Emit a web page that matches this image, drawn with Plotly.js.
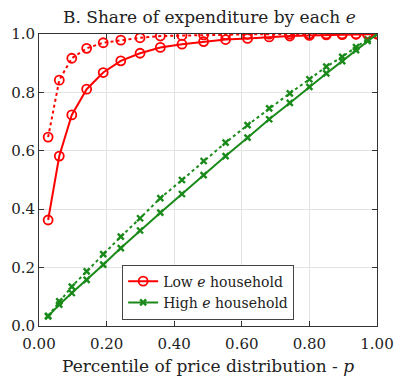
<!DOCTYPE html>
<html>
<head>
<meta charset="utf-8">
<script src="https://cdn.plot.ly/plotly-3.0.1.min.js"></script>
<style>
  html, body { margin: 0; padding: 0; background: #fff; }
  #chart { width: 395px; height: 376px; }
</style>
</head>
<body>
<div id="chart"></div>
<script>
// Percentile of the price distribution (p) at which each share is evaluated
const pGrid = [0.027, 0.06, 0.097, 0.141, 0.19, 0.242, 0.299, 0.359, 0.423, 0.487,
               0.552, 0.617, 0.681, 0.742, 0.80, 0.85, 0.897, 0.938, 0.972, 1.0];

// Cumulative share of expenditure, low-e household (solid and dotted variants)
const lowSolid  = [0.363, 0.582, 0.723, 0.811, 0.868, 0.908, 0.934, 0.954, 0.965, 0.974,
                   0.981, 0.985, 0.990, 0.993, 0.995, 0.997, 0.998, 0.999, 0.9995, 1.0];
const lowDotted = [0.647, 0.842, 0.917, 0.951, 0.970, 0.979, 0.987, 0.993, 0.995, 0.997,
                   0.998, 0.999, 0.9995, 1.0, 1.0, 1.0, 1.0, 1.0, 1.0, 1.0];

// Cumulative share of expenditure, high-e household (solid and dotted variants)
const highSolid  = [0.033, 0.073, 0.113, 0.158, 0.210, 0.267, 0.327, 0.388, 0.452, 0.517,
                    0.582, 0.645, 0.708, 0.764, 0.819, 0.865, 0.907, 0.945, 0.976, 1.0];
const highDotted = [0.035, 0.084, 0.135, 0.187, 0.246, 0.306, 0.369, 0.438, 0.500, 0.565,
                    0.628, 0.688, 0.745, 0.797, 0.845, 0.888, 0.922, 0.955, 0.982, 1.0];

const seriesNames = ['Low <i>e</i> household', 'High <i>e</i> household'];
const xTicks = [0, 0.2, 0.4, 0.6, 0.8, 1.0];
const yTicks = [0, 0.2, 0.4, 0.6, 0.8, 1.0];

const RED = '#ff0000';
const GREEN = '#1a8a1a';
const FONT = 'DejaVu Serif';

const circle = {symbol: 'circle-open', size: 9, color: RED, line: {width: 1.8, color: RED}};
const cross  = {symbol: 'x-thin-open', size: 6, color: GREEN, line: {width: 2.4, color: GREEN}};

const traces = [
  {x: pGrid, y: lowDotted, mode: 'lines+markers', showlegend: false,
   line: {color: RED, width: 2, dash: 'dot'}, marker: circle},
  {x: pGrid, y: highDotted, mode: 'lines+markers', showlegend: false,
   line: {color: GREEN, width: 2, dash: 'dot'}, marker: cross},
  {x: pGrid, y: lowSolid, mode: 'lines+markers', name: seriesNames[0],
   line: {color: RED, width: 2}, marker: circle},
  {x: pGrid, y: highSolid, mode: 'lines+markers', name: seriesNames[1],
   line: {color: GREEN, width: 2}, marker: cross}
];

const axisCommon = {
  showline: true, linecolor: '#333', linewidth: 1, mirror: 'ticks',
  ticks: 'inside', ticklen: 5, tickcolor: '#333',
  showgrid: true, gridcolor: '#e3e3e3', gridwidth: 1,
  zeroline: false,
  tickfont: {family: FONT, size: 15, color: '#222'}
};

const layout = {
  width: 395, height: 376,
  margin: {l: 39, r: 18, t: 34, b: 50},
  paper_bgcolor: '#fff', plot_bgcolor: '#fff',
  font: {family: FONT, color: '#222'},
  title: {text: 'B. Share of expenditure by each <i>e</i>',
          font: {family: FONT, size: 17, color: '#222'},
          x: 0.53, xanchor: 'center', y: 0.955, yanchor: 'middle'},
  xaxis: Object.assign({}, axisCommon, {
    range: [0, 1], tickvals: xTicks, ticktext: xTicks.map(v => v.toFixed(2)),
    ticklabelstandoff: 4,
    title: {text: 'Percentile of price distribution - <i>p</i>',
            font: {family: FONT, size: 17, color: '#222'}, standoff: 8}
  }),
  yaxis: Object.assign({}, axisCommon, {
    range: [0, 1], tickvals: yTicks, ticktext: yTicks.map(v => v.toFixed(1))
  }),
  legend: {x: 0.246, y: 0.022, xanchor: 'left', yanchor: 'bottom',
           bgcolor: '#fff', bordercolor: '#444', borderwidth: 1,
           font: {family: FONT, size: 14, color: '#222'},
           tracegroupgap: 0, itemwidth: 30},
  showlegend: true
};

Plotly.newPlot('chart', traces, layout, {displayModeBar: false, staticPlot: true});
</script>
</body>
</html>
